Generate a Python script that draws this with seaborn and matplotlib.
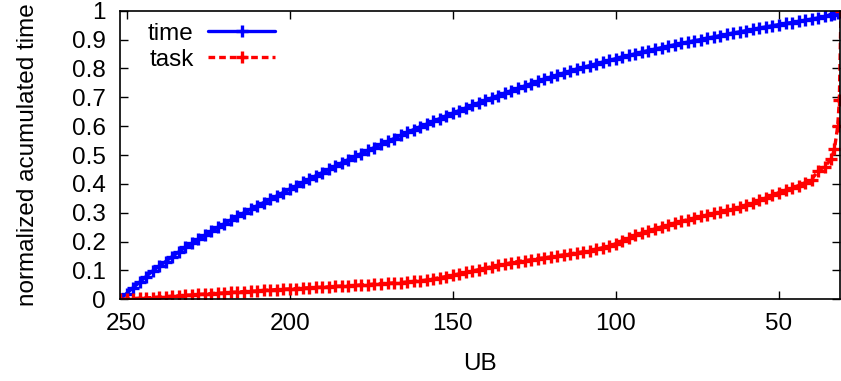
import numpy as np
import pandas as pd
import matplotlib
matplotlib.use("Agg")
import matplotlib.pyplot as plt
import seaborn as sns

# UB grid (descending) as seen on the plot
ub = list(range(252, 33, -2)) + [33, 32, 31.5, 31]

# normalized accumulated time
time_vals = [
    0.000, 0.020, 0.040, 0.059, 0.079, 0.098, 0.115, 0.131, 0.148, 0.164,
    0.180, 0.194, 0.208, 0.222, 0.236, 0.250, 0.262, 0.275, 0.287, 0.300,
    0.312, 0.324, 0.335, 0.347, 0.358, 0.370, 0.382, 0.393, 0.405, 0.416,
    0.428, 0.439, 0.450, 0.462, 0.473, 0.484, 0.495, 0.505, 0.516, 0.526,
    0.537, 0.547, 0.557, 0.568, 0.578, 0.588, 0.598, 0.607, 0.617, 0.626,
    0.636, 0.645, 0.654, 0.663, 0.672, 0.681, 0.689, 0.698, 0.706, 0.715,
    0.723, 0.731, 0.739, 0.747, 0.755, 0.763, 0.770, 0.777, 0.784, 0.791,
    0.798, 0.804, 0.810, 0.816, 0.822, 0.828, 0.834, 0.840, 0.845, 0.851,
    0.857, 0.862, 0.867, 0.872, 0.877, 0.882, 0.887, 0.891, 0.896, 0.900,
    0.905, 0.909, 0.914, 0.918, 0.923, 0.927, 0.931, 0.935, 0.940, 0.944,
    0.948, 0.952, 0.956, 0.959, 0.963, 0.967, 0.971, 0.975, 0.980, 0.985,
    0.988, 0.992, 0.996, 1.000,
]

# normalized accumulated tasks
task_vals = [
    0.000, 0.001, 0.002, 0.004, 0.005, 0.006, 0.008, 0.009, 0.011, 0.012,
    0.014, 0.015, 0.017, 0.018, 0.020, 0.021, 0.022, 0.024, 0.025, 0.027,
    0.028, 0.029, 0.031, 0.032, 0.034, 0.035, 0.036, 0.037, 0.039, 0.040,
    0.041, 0.042, 0.043, 0.045, 0.046, 0.047, 0.048, 0.050, 0.051, 0.053,
    0.054, 0.055, 0.057, 0.058, 0.060, 0.062, 0.064, 0.067, 0.071, 0.075,
    0.079, 0.084, 0.088, 0.093, 0.098, 0.103, 0.108, 0.113, 0.118, 0.122,
    0.127, 0.131, 0.134, 0.137, 0.141, 0.144, 0.147, 0.151, 0.154, 0.157,
    0.161, 0.165, 0.169, 0.174, 0.179, 0.184, 0.193, 0.203, 0.212, 0.222,
    0.230, 0.237, 0.244, 0.251, 0.258, 0.264, 0.270, 0.276, 0.281, 0.287,
    0.292, 0.298, 0.303, 0.309, 0.314, 0.320, 0.327, 0.335, 0.343, 0.351,
    0.360, 0.370, 0.378, 0.386, 0.394, 0.404, 0.415, 0.445, 0.460, 0.485,
    0.520, 0.600, 0.690, 1.000,
]

assert len(ub) == len(time_vals) == len(task_vals)

df = pd.DataFrame({"UB": ub, "time": time_vals, "task": task_vals})

sns.set_style("ticks")
plt.rcParams["font.family"] = ["Liberation Sans", "DejaVu Sans"]
plt.rcParams["xtick.direction"] = "in"
plt.rcParams["ytick.direction"] = "in"
for key in ["text.color", "axes.labelcolor", "xtick.color", "ytick.color", "axes.edgecolor"]:
    plt.rcParams[key] = "black"

FS = 17.5

fig = plt.figure(figsize=(8.41, 3.81), dpi=100)
ax = fig.add_axes([0.1427, 0.2144, 0.8561, 0.7575])

blue, red = "#0000ff", "#ff0000"
sns.lineplot(data=df, x="UB", y="time", ax=ax, color=blue, label="time",
             linewidth=2.4, marker="+", markersize=8.5, markeredgewidth=2.4,
             markeredgecolor=blue)
sns.lineplot(data=df, x="UB", y="task", ax=ax, color=red, label="task",
             linewidth=2.4, linestyle=(0, (2, 1.2)), marker="+", markersize=8.5,
             markeredgewidth=2.4, markeredgecolor=red)

ax.set_xlim(252, 31.3)
ax.set_ylim(0, 1)
ax.set_xticks([250, 200, 150, 100, 50])
ax.set_yticks(np.arange(0, 1.01, 0.1))
ax.set_yticklabels(["0", "0.1", "0.2", "0.3", "0.4", "0.5", "0.6", "0.7", "0.8", "0.9", "1"])
ax.tick_params(axis="both", labelsize=FS, length=6, width=1, top=True, right=True, pad=10)
for s in ax.spines.values():
    s.set_linewidth(1.2)
    s.set_visible(True)

ax.set_xlabel("UB", fontsize=FS, labelpad=13)
ax.set_ylabel("normalized acumulated time", fontsize=FS, labelpad=24)

ax.legend(loc="upper left", frameon=False, markerfirst=False, fontsize=FS,
          handlelength=2.75, handletextpad=0.6, borderaxespad=0, borderpad=0,
          labelspacing=0.15, bbox_to_anchor=(0.039, 0.958))

fig.savefig("out.png", dpi=100)
